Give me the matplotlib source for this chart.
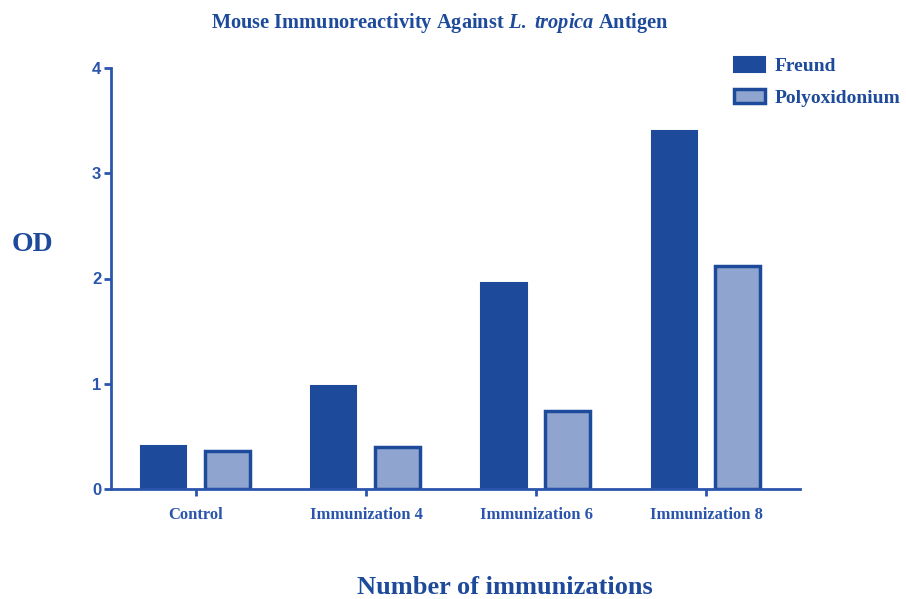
import matplotlib
matplotlib.use("Agg")
import matplotlib.pyplot as plt
import numpy as np
from matplotlib.patches import Patch

categories = ["Control", "Immunization 4", "Immunization 6", "Immunization 8"]
freund = [0.41, 0.98, 1.96, 3.40]
polyox = [0.36, 0.40, 0.74, 2.12]
yticks = [0, 1, 2, 3, 4]

dark = "#1d4a9a"
light = "#8fa5cf"
axcol = "#2b55ad"

plt.rcParams["mathtext.fontset"] = "custom"
plt.rcParams["mathtext.rm"] = "Liberation Serif:bold"
plt.rcParams["mathtext.it"] = "Liberation Serif:italic:bold"
plt.rcParams["mathtext.bf"] = "Liberation Serif:bold"

fig = plt.figure(figsize=(9.06, 5.99), dpi=100)
ax = fig.add_axes([111/906, 1-489/599, (800-111)/906, (489-68)/599])

x = np.arange(len(categories))
w = 0.265
ax.bar(x - 0.19, freund, w, color=dark, edgecolor=dark, linewidth=1.5, label="Freund")
ax.bar(x + 0.185, polyox, w, color=light, edgecolor=dark, linewidth=2.5, label="Polyoxidonium")

ax.set_xlim(-0.5, 3.55)
ax.set_ylim(0, 4)
ax.set_yticks(yticks)
ax.set_xticks(x)
ax.set_xticklabels(categories, fontfamily="Liberation Serif", fontweight="bold", fontsize=12, color=dark)
for lab in ax.get_yticklabels():
    lab.set_fontfamily("Liberation Sans")
    lab.set_fontweight("bold")
    lab.set_fontsize(12)
    lab.set_color(axcol)
for s in ["top", "right"]:
    ax.spines[s].set_visible(False)
for s in ["left", "bottom"]:
    ax.spines[s].set_color(axcol)
    ax.spines[s].set_linewidth(2)
ax.tick_params(axis="both", colors=axcol, width=2, length=5, direction="out")
ax.tick_params(axis="x", pad=8)
ax.tick_params(axis="y", pad=2)

fig.text(440/906, 1-23/599, r"Mouse Immunoreactivity Against $\it{L.\ tropica}$ Antigen",
         ha="center", va="center", fontfamily="Liberation Serif", fontweight="bold", fontsize=14.7, color=dark)
fig.text(32/906, 1-245/599, "OD", ha="center", va="center", fontfamily="Liberation Serif",
         fontweight="bold", fontsize=20, color=dark)
fig.text(505/906, 1-588/599, "Number of immunizations", ha="center", va="center",
         fontfamily="Liberation Serif", fontweight="bold", fontsize=19, color=dark)

handles = [Patch(facecolor=dark, edgecolor=dark, linewidth=1.5, label="Freund"),
           Patch(facecolor=light, edgecolor=dark, linewidth=2.5, label="Polyoxidonium")]
leg = fig.legend(handles=handles, loc="upper left", bbox_to_anchor=(716/906, 1-40/599),
                 frameon=False, prop={"family": "Liberation Serif", "weight": "bold", "size": 14},
                 handlelength=1.6, handleheight=0.75, labelspacing=0.7, handletextpad=0.5)
for t in leg.get_texts():
    t.set_color(dark)

fig.savefig("out.png", dpi=100)
